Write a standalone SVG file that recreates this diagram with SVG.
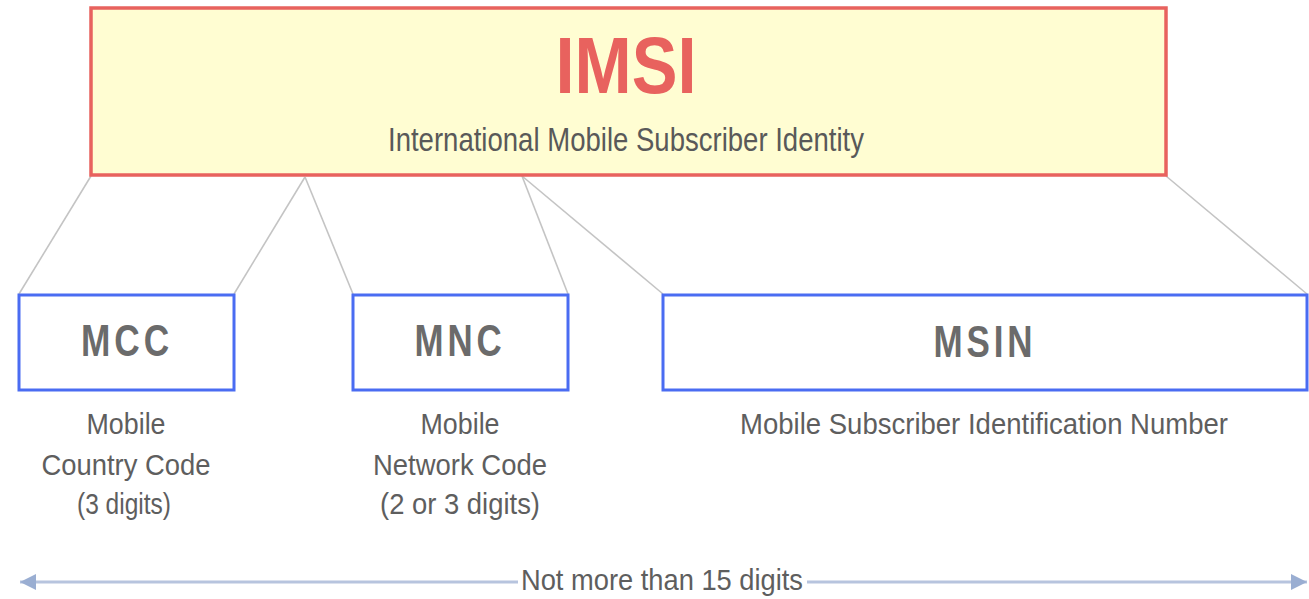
<svg xmlns="http://www.w3.org/2000/svg" width="1309" height="599" viewBox="0 0 1309 599">
<defs>
<style>
.lbl{font-family:"Liberation Sans",Arial,sans-serif;font-size:30px;fill:#5e5e5e;text-anchor:middle}
.code{font-family:"Liberation Sans",Arial,sans-serif;font-size:45px;font-weight:bold;fill:#6b6b6b;text-anchor:middle;letter-spacing:5px}
.box{fill:#ffffff;stroke:#4a6cf2;stroke-width:3}
.conn{stroke:#c4c4c4;stroke-width:1.6;fill:none}
</style>
<marker id="ah" viewBox="0 0 10 10" refX="10" refY="5" markerWidth="18" markerHeight="16" markerUnits="userSpaceOnUse" orient="auto-start-reverse">
<path d="M0,0 L10,5 L0,10 Z" fill="#9aaed2"/>
</marker>
</defs>
<rect width="1309" height="599" fill="#ffffff"/>
<g id="connectors">
<line class="conn" x1="91" y1="176" x2="19" y2="294"/>
<line class="conn" x1="305" y1="177" x2="234" y2="294"/>
<line class="conn" x1="305" y1="177" x2="353" y2="294"/>
<line class="conn" x1="522" y1="176" x2="568" y2="294"/>
<line class="conn" x1="522" y1="176" x2="663" y2="294"/>
<line class="conn" x1="1166" y1="176" x2="1307" y2="294"/>
<line x1="20" y1="582" x2="1307" y2="582" stroke="#b7c4de" stroke-width="3" marker-start="url(#ah)" marker-end="url(#ah)"/>
<rect x="518" y="566" width="289" height="30" fill="#ffffff"/>
<text class="lbl" x="662" y="590" textLength="282" lengthAdjust="spacingAndGlyphs">Not more than 15 digits</text>
</g>
<g id="imsi">
<rect x="91" y="8" width="1075" height="167" fill="#fffdd2" stroke="#e8625e" stroke-width="3.5"/>
<text x="626" y="93" font-family="'Liberation Sans',Arial,sans-serif" font-size="80" font-weight="bold" fill="#e8625e" text-anchor="middle" textLength="141" lengthAdjust="spacingAndGlyphs">IMSI</text>
<text class="lbl" x="626" y="151" textLength="476" lengthAdjust="spacingAndGlyphs" style="font-size:33px;fill:#595959">International Mobile Subscriber Identity</text>
</g>
<g id="mcc">
<rect class="box" x="19" y="295" width="215" height="95"/>
<text class="code" x="127" y="356" textLength="92" lengthAdjust="spacingAndGlyphs">MCC</text>
<text class="lbl" x="126" y="434" textLength="79" lengthAdjust="spacingAndGlyphs">Mobile</text>
<text class="lbl" x="126" y="475" textLength="169" lengthAdjust="spacingAndGlyphs">Country Code</text>
<text class="lbl" x="124" y="514" textLength="94" lengthAdjust="spacingAndGlyphs">(3 digits)</text>
</g>
<g id="mnc">
<rect class="box" x="353" y="295" width="215" height="95"/>
<text class="code" x="460" y="356" textLength="91" lengthAdjust="spacingAndGlyphs">MNC</text>
<text class="lbl" x="460" y="434" textLength="79" lengthAdjust="spacingAndGlyphs">Mobile</text>
<text class="lbl" x="460" y="475" textLength="174" lengthAdjust="spacingAndGlyphs">Network Code</text>
<text class="lbl" x="460" y="514" textLength="160" lengthAdjust="spacingAndGlyphs">(2 or 3 digits)</text>
</g>
<g id="msin">
<rect class="box" x="663" y="295" width="644" height="95"/>
<text class="code" x="985" y="357" textLength="103" lengthAdjust="spacingAndGlyphs">MSIN</text>
<text class="lbl" x="984" y="434" textLength="488" lengthAdjust="spacingAndGlyphs">Mobile Subscriber Identification Number</text>
</g>
</svg>
